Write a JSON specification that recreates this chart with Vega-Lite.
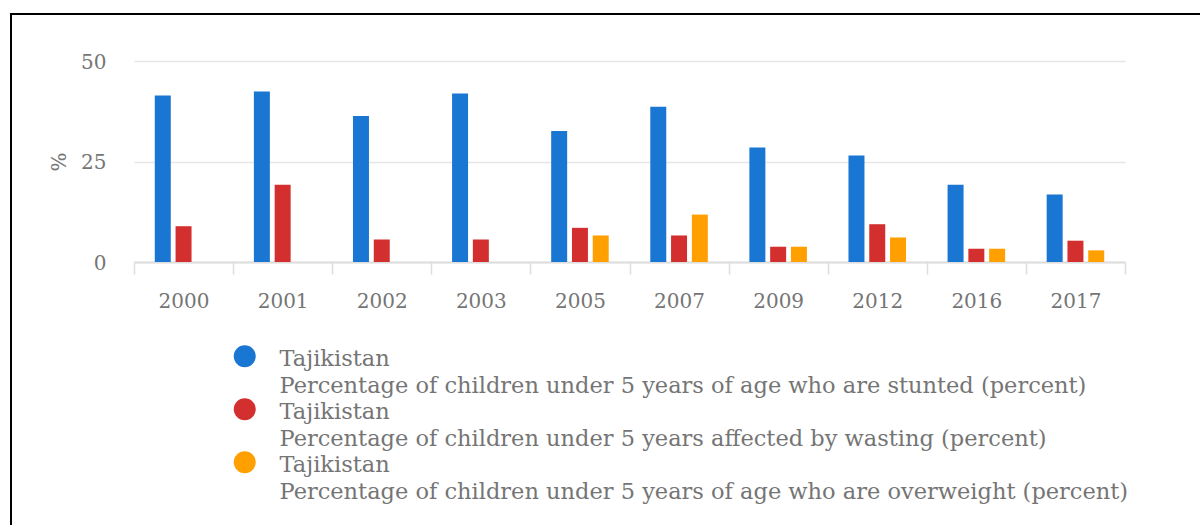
{
  "$schema": "https://vega.github.io/schema/vega-lite/v6.json",
  "width": 1189,
  "height": 511,
  "autosize": {"type": "none"},
  "padding": {"left": 11, "top": 14, "right": 0, "bottom": 0},
  "config": {
    "view": {"stroke": "black", "strokeWidth": 2, "strokeDash": [1189, 1700, 511]},
    "font": "DejaVu Serif",
    "style": {"guide-label": {"dy": -8, "lineHeight": 26.5}}
  },
  "data": {
    "values": [
      {"year": "2000", "indicator": "Percentage of children under 5 years of age who are stunted (percent)", "value": 41.4},
      {"year": "2001", "indicator": "Percentage of children under 5 years of age who are stunted (percent)", "value": 42.4},
      {"year": "2002", "indicator": "Percentage of children under 5 years of age who are stunted (percent)", "value": 36.3},
      {"year": "2003", "indicator": "Percentage of children under 5 years of age who are stunted (percent)", "value": 41.9},
      {"year": "2005", "indicator": "Percentage of children under 5 years of age who are stunted (percent)", "value": 32.6},
      {"year": "2007", "indicator": "Percentage of children under 5 years of age who are stunted (percent)", "value": 38.6},
      {"year": "2009", "indicator": "Percentage of children under 5 years of age who are stunted (percent)", "value": 28.5},
      {"year": "2012", "indicator": "Percentage of children under 5 years of age who are stunted (percent)", "value": 26.5},
      {"year": "2016", "indicator": "Percentage of children under 5 years of age who are stunted (percent)", "value": 19.2},
      {"year": "2017", "indicator": "Percentage of children under 5 years of age who are stunted (percent)", "value": 16.8},
      {"year": "2000", "indicator": "Percentage of children under 5 years affected by wasting (percent)", "value": 8.9},
      {"year": "2001", "indicator": "Percentage of children under 5 years affected by wasting (percent)", "value": 19.2},
      {"year": "2002", "indicator": "Percentage of children under 5 years affected by wasting (percent)", "value": 5.6},
      {"year": "2003", "indicator": "Percentage of children under 5 years affected by wasting (percent)", "value": 5.6},
      {"year": "2005", "indicator": "Percentage of children under 5 years affected by wasting (percent)", "value": 8.5},
      {"year": "2007", "indicator": "Percentage of children under 5 years affected by wasting (percent)", "value": 6.6},
      {"year": "2009", "indicator": "Percentage of children under 5 years affected by wasting (percent)", "value": 3.8},
      {"year": "2012", "indicator": "Percentage of children under 5 years affected by wasting (percent)", "value": 9.4},
      {"year": "2016", "indicator": "Percentage of children under 5 years affected by wasting (percent)", "value": 3.3},
      {"year": "2017", "indicator": "Percentage of children under 5 years affected by wasting (percent)", "value": 5.3},
      {"year": "2005", "indicator": "Percentage of children under 5 years of age who are overweight (percent)", "value": 6.6},
      {"year": "2007", "indicator": "Percentage of children under 5 years of age who are overweight (percent)", "value": 11.8},
      {"year": "2009", "indicator": "Percentage of children under 5 years of age who are overweight (percent)", "value": 3.8},
      {"year": "2012", "indicator": "Percentage of children under 5 years of age who are overweight (percent)", "value": 6.1},
      {"year": "2016", "indicator": "Percentage of children under 5 years of age who are overweight (percent)", "value": 3.3},
      {"year": "2017", "indicator": "Percentage of children under 5 years of age who are overweight (percent)", "value": 2.9}
    ]
  },
  "mark": {"type": "bar"},
  "encoding": {
    "x": {
      "field": "year",
      "type": "nominal",
      "sort": null,
      "scale": {"range": [123, 1114], "paddingInner": 0, "paddingOuter": 0},
      "axis": {
        "orient": "bottom",
        "offset": -263,
        "title": null,
        "labelAngle": 0,
        "tickBand": "extent",
        "tickSize": 12,
        "tickColor": "#dddddd",
        "tickWidth": 1.5,
        "domainColor": "#dddddd",
        "domainWidth": 2,
        "labelPadding": 25,
        "labelFontSize": 20,
        "labelColor": "#757575",
        "grid": false
      }
    },
    "xOffset": {
      "field": "indicator",
      "type": "nominal",
      "scale": {
        "domain": [
          "Percentage of children under 5 years of age who are stunted (percent)",
          "Percentage of children under 5 years affected by wasting (percent)",
          "Percentage of children under 5 years of age who are overweight (percent)"
        ],
        "paddingInner": 0.2308,
        "paddingOuter": 1.157
      }
    },
    "y": {
      "field": "value",
      "type": "quantitative",
      "scale": {"domain": [0, 50], "range": [248, 47], "nice": false},
      "axis": {
        "orient": "left",
        "offset": -123,
        "values": [0, 25, 50],
        "ticks": false,
        "tickSize": 0,
        "domain": false,
        "grid": true,
        "gridColor": "#e6e6e6",
        "gridWidth": 1.5,
        "labelPadding": 28,
        "labelOffset": 9,
        "labelFontSize": 20,
        "labelColor": "#757575",
        "title": "%",
        "titleFontSize": 20,
        "titleFontWeight": "normal",
        "titleColor": "#757575",
        "titlePadding": 11
      }
    },
    "color": {
      "field": "indicator",
      "type": "nominal",
      "scale": {
        "domain": [
          "Percentage of children under 5 years of age who are stunted (percent)",
          "Percentage of children under 5 years affected by wasting (percent)",
          "Percentage of children under 5 years of age who are overweight (percent)"
        ],
        "range": ["#1976D2", "#D32F2F", "#FFA000"]
      },
      "legend": {
        "orient": "none",
        "legendX": 222.5,
        "legendY": 331,
        "direction": "vertical",
        "title": null,
        "padding": 0,
        "symbolType": "circle",
        "symbolSize": 484,
        "symbolStrokeWidth": 0,
        "symbolOpacity": 1,
        "labelFontSize": 22.5,
        "labelColor": "#757575",
        "labelBaseline": "top",
        "labelOffset": 23.5,
        "labelLimit": 2000,
        "rowPadding": -4.5,
        "labelExpr": "['Tajikistan', datum.label]"
      }
    }
  }
}
